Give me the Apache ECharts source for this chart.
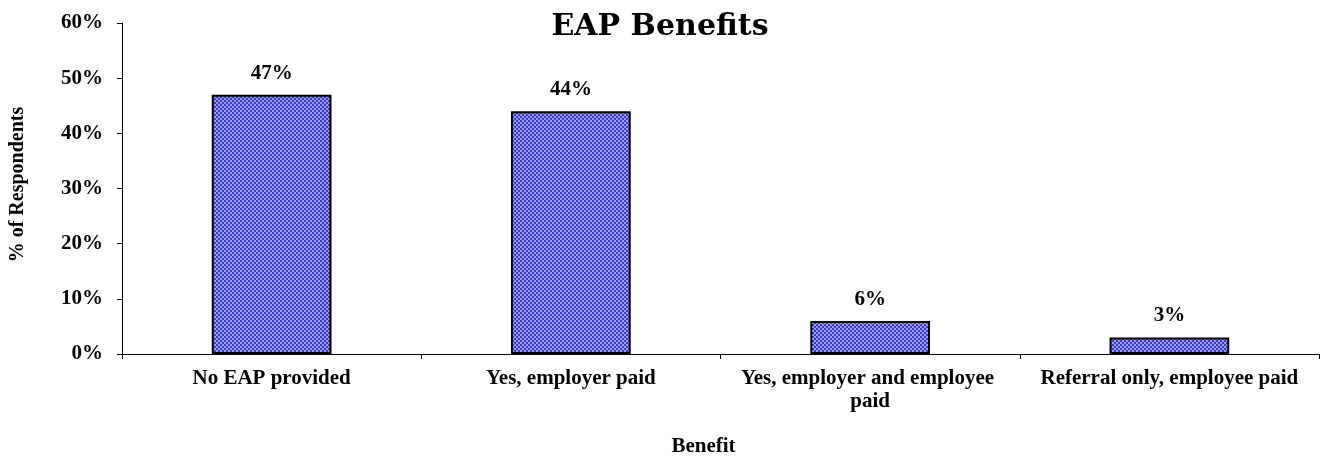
<!DOCTYPE html>
<html><head><meta charset="utf-8">
<script src="https://cdn.jsdelivr.net/npm/echarts@6/dist/echarts.min.js"></script>
<style>html,body{margin:0;padding:0;background:#fff}#c{width:1322px;height:462px}</style>
</head><body><div id="c"></div>
<script>
const categories = ["No EAP provided", "Yes, employer paid", "Yes, employer and employee paid", "Referral only, employee paid"];
const values = [47, 44, 6, 3];
const yTicks = [0, 10, 20, 30, 40, 50, 60];

const pat = document.createElement('canvas');
pat.width = 4; pat.height = 4;
const g = pat.getContext('2d');
g.fillStyle = '#9a9aff'; g.fillRect(0,0,4,4);
g.fillStyle = '#3a3ac8'; g.fillRect(0,0,2,2); g.fillRect(2,2,2,2);

const serif = '"Liberation Serif", "Times New Roman", serif';
const chart = echarts.init(document.getElementById('c'));
chart.setOption({
  animation: false,
  title: { text: 'EAP Benefits', left: 655, top: 7, textAlign: 'center',
    textStyle: { fontFamily: '"DejaVu Serif", serif', fontWeight: 'bold', fontSize: 30, color: '#000' } },
  grid: { left: 122, right: 3, top: 23, bottom: 108 },
  xAxis: {
    type: 'category', data: categories,
    name: 'Benefit', nameLocation: 'middle', nameGap: 82,
    nameTextStyle: { fontFamily: serif, fontWeight: 'bold', fontSize: 21, color: '#000', padding: [0, 34, 0, 0] },
    axisLine: { lineStyle: { color: '#000', width: 1 } },
    axisTick: { show: true, length: 5, lineStyle: { color: '#000' } },
    axisLabel: { interval: 0, fontFamily: serif, fontWeight: 'bold', fontSize: 21, color: '#000',
      margin: 13, width: 285, overflow: 'break', lineHeight: 23 }
  },
  yAxis: {
    type: 'value', min: 0, max: 60, interval: 10,
    name: '% of Respondents', nameLocation: 'middle', nameGap: 94, nameRotate: 90,
    nameTextStyle: { fontFamily: serif, fontWeight: 'bold', fontSize: 20, color: '#000', padding: [0, 0, 0, 8] },
    axisLine: { show: true, lineStyle: { color: '#000', width: 1 } },
    axisTick: { show: true, length: 5, lineStyle: { color: '#000' } },
    splitLine: { show: false },
    axisLabel: { fontFamily: serif, fontWeight: 'bold', fontSize: 21, color: '#000', margin: 19,
      formatter: v => yTicks.includes(v) ? v + '%' : '' }
  },
  series: [{
    type: 'bar', data: values, barWidth: '40%',
    itemStyle: { color: { image: pat, repeat: 'repeat' }, borderColor: '#000', borderWidth: 2 },
    label: { show: true, position: 'top', distance: 11, formatter: p => p.value + '%',
      fontFamily: serif, fontWeight: 'bold', fontSize: 21, color: '#000' }
  }]
});
</script></body></html>
